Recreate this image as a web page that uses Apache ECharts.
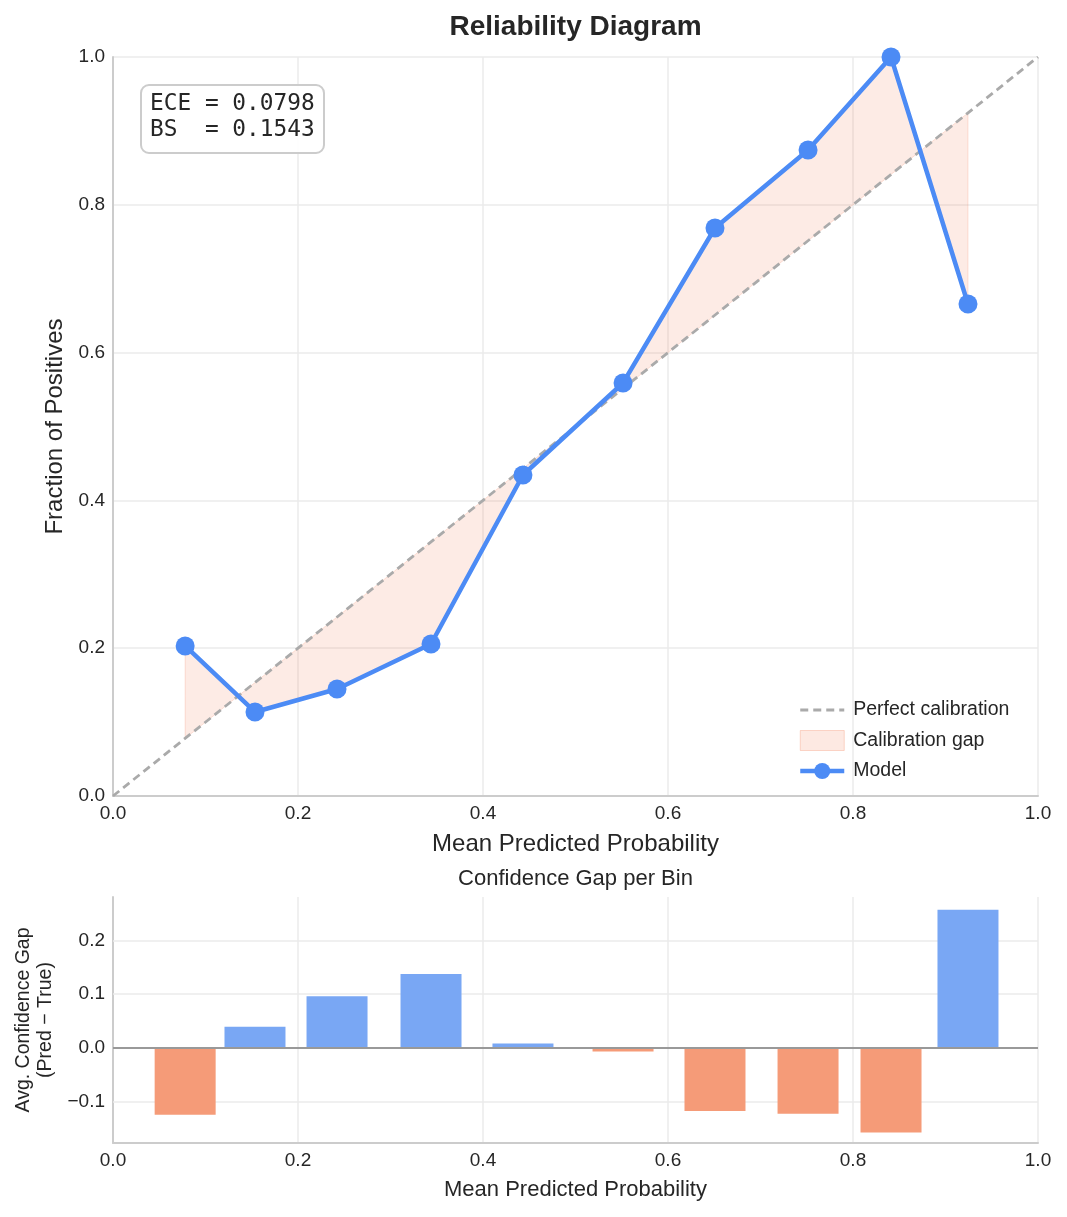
<!DOCTYPE html>
<html><head><meta charset="utf-8">
<script src="https://cdn.jsdelivr.net/npm/echarts@6/dist/echarts.min.js"></script>
<style>html,body{margin:0;padding:0;background:#fff}#c{width:1067px;height:1217px}</style>
</head><body><div id="c"></div>
<script>
// ---- data ----
const predMean = [0.078, 0.1535, 0.2422, 0.3438, 0.4432, 0.5514, 0.6508, 0.7514, 0.8411, 0.9243];
const fracPos  = [0.203, 0.1137, 0.1448, 0.2057, 0.4344, 0.5589, 0.7686, 0.8742, 1.0, 0.6658];
const binGap   = [-0.125, 0.039, 0.096, 0.137, 0.008, -0.007, -0.118, -0.123, -0.158, 0.257];
const diagonal = [[0, 0], [1, 1]];
const gapTicks = [-0.1, 0.0, 0.1, 0.2];
const gapGrid  = [-0.1, 0.1, 0.2];
const statLines = ['ECE = 0.0798', 'BS  = 0.1543'];
const mainTitle = 'Reliability Diagram';
const subTitle = 'Confidence Gap per Bin';

const FONT = '"Liberation Sans", Arial, sans-serif';
const TXT = '#262626';
const GRID = '#ebebeb';
const SPINE = '#cccccc';
const BLUE = '#4c8bf5';
const fmt1 = v => (v < 0 ? '\u2212' : '') + Math.abs(v).toFixed(1);

const modelData = predMean.map((x, i) => [x, fracPos[i]]);
const barData = predMean.map((x, i) => [x, binGap[i]]);

const chart = echarts.init(document.getElementById('c'), null, {renderer: 'canvas'});
const axisLabel = {color: TXT, fontSize: 19, fontFamily: FONT, formatter: fmt1};
chart.setOption({
  animation: false,
  backgroundColor: '#fff',
  grid: [
    {left: 113, top: 57, width: 925, height: 739},
    {left: 113, top: 897, width: 925, height: 246}
  ],
  xAxis: [
    {type: 'value', gridIndex: 0, min: 0, max: 1, interval: 0.2,
     axisLine: {onZero: false, lineStyle: {color: SPINE, width: 2}}, axisTick: {show: false},
     axisLabel: Object.assign({margin: 8}, axisLabel),
     splitLine: {lineStyle: {color: GRID, width: 1.5}},
     name: 'Mean Predicted Probability', nameLocation: 'middle', nameGap: 36,
     nameTextStyle: {color: TXT, fontSize: 24, fontFamily: FONT}},
    {type: 'value', gridIndex: 1, min: 0, max: 1, interval: 0.2,
     axisLine: {onZero: false, lineStyle: {color: SPINE, width: 2}}, axisTick: {show: false},
     axisLabel: Object.assign({margin: 8}, axisLabel),
     splitLine: {lineStyle: {color: GRID, width: 1.5}},
     name: 'Mean Predicted Probability', nameLocation: 'middle', nameGap: 36,
     nameTextStyle: {color: TXT, fontSize: 22, fontFamily: FONT}}
  ],
  yAxis: [
    {type: 'value', gridIndex: 0, min: 0, max: 1, interval: 0.2,
     axisLine: {show: true, onZero: false, lineStyle: {color: SPINE, width: 2}}, axisTick: {show: false},
     axisLabel: Object.assign({margin: 8}, axisLabel),
     splitLine: {lineStyle: {color: GRID, width: 1.5}},
     name: 'Fraction of Positives', nameLocation: 'middle', nameGap: 46,
     nameTextStyle: {color: TXT, fontSize: 24, fontFamily: FONT}},
    {type: 'value', gridIndex: 1, min: -0.1775, max: 0.2806,
     axisLine: {show: true, onZero: false, lineStyle: {color: SPINE, width: 2}},
     axisTick: {show: false, customValues: gapTicks},
     axisLabel: Object.assign({margin: 8, customValues: gapTicks}, axisLabel),
     splitLine: {show: false},
     name: 'Avg. Confidence Gap\n(Pred \u2212 True)', nameLocation: 'middle', nameGap: 56,
     nameTextStyle: {color: TXT, fontSize: 19.5, lineHeight: 22, fontFamily: FONT, align: 'center'}}
  ],
  legend: {
    orient: 'vertical', left: 793, top: 695, itemWidth: 44, itemHeight: 20, itemGap: 10,
    textStyle: {color: TXT, fontSize: 19.5, fontFamily: FONT, padding: [0, 0, 0, 4]},
    data: [
      {name: 'Perfect calibration', lineStyle: {color: '#aaaaaa', width: 2.8, type: [8, 5]},
       itemStyle: {color: 'rgba(0,0,0,0)', borderWidth: 0, opacity: 0}},
      {name: 'Calibration gap', icon: 'rect', itemStyle: {color: 'rgba(244,132,95,0.18)', borderColor: 'rgba(244,132,95,0.3)', borderWidth: 1}},
      {name: 'Model', lineStyle: {color: BLUE, width: 4.5}}
    ]
  },
  graphic: [
    {type: 'text', style: {text: mainTitle, x: 575.5, y: 27, align: 'center', verticalAlign: 'middle',
      font: 'bold 28px ' + FONT, fill: TXT}},
    {type: 'text', style: {text: subTitle, x: 575.5, y: 879, align: 'center', verticalAlign: 'middle',
      font: '22px ' + FONT, fill: TXT}},
    {type: 'rect', shape: {x: 141, y: 85, width: 183, height: 68, r: 8},
      style: {fill: 'rgba(255,255,255,0.9)', stroke: '#cccccc', lineWidth: 2}, z: 100},
    {type: 'text', z: 101, style: {text: statLines.join('\n'), x: 150, y: 91, lineHeight: 26,
      font: '22.8px "DejaVu Sans Mono", monospace', fill: TXT}}
  ],
  series: [
    {name: 'Calibration gap', type: 'custom', xAxisIndex: 0, yAxisIndex: 0, z: 1,
     itemStyle: {color: 'rgba(244,132,95,0.18)'},
     data: [[0, 0]],
     renderItem: function (params, api) {
       const pts = [];
       for (let i = 0; i < predMean.length; i++) pts.push(api.coord([predMean[i], fracPos[i]]));
       for (let i = predMean.length - 1; i >= 0; i--) pts.push(api.coord([predMean[i], predMean[i]]));
       return {type: 'polygon', shape: {points: pts}, style: {fill: 'rgba(244,132,95,0.16)', stroke: 'rgba(244,132,95,0.22)', lineWidth: 1}};
     }},
    {name: 'Perfect calibration', type: 'line', xAxisIndex: 0, yAxisIndex: 0, z: 2,
     data: diagonal, symbol: 'none', silent: true,
     itemStyle: {color: '#aaaaaa'},
     lineStyle: {color: '#aaaaaa', width: 2.8, type: [8, 5]}},
    {name: 'Model', type: 'line', xAxisIndex: 0, yAxisIndex: 0, z: 3,
     data: modelData, symbol: 'circle', symbolSize: 19, showSymbol: true,
     itemStyle: {color: BLUE}, lineStyle: {color: BLUE, width: 4.5}},
    {name: 'gapgrid', type: 'line', xAxisIndex: 1, yAxisIndex: 1, z: 1, data: [], silent: true,
     markLine: {z: 1, silent: true, symbol: 'none', label: {show: false}, animation: false,
       lineStyle: {color: GRID, width: 1.5, type: 'solid'},
       data: gapGrid.map(v => ({yAxis: v}))}},
    {name: 'Gap', type: 'bar', xAxisIndex: 1, yAxisIndex: 1, z: 3, barWidth: 61,
     data: barData,
     itemStyle: {color: p => p.value[1] >= 0 ? '#79a7f4' : '#f59b78'},
     markLine: {z: 5, silent: true, symbol: 'none', label: {show: false}, animation: false,
       lineStyle: {color: '#999999', width: 2, type: 'solid'},
       data: [{yAxis: 0}]}}
  ]
});
</script></body></html>
